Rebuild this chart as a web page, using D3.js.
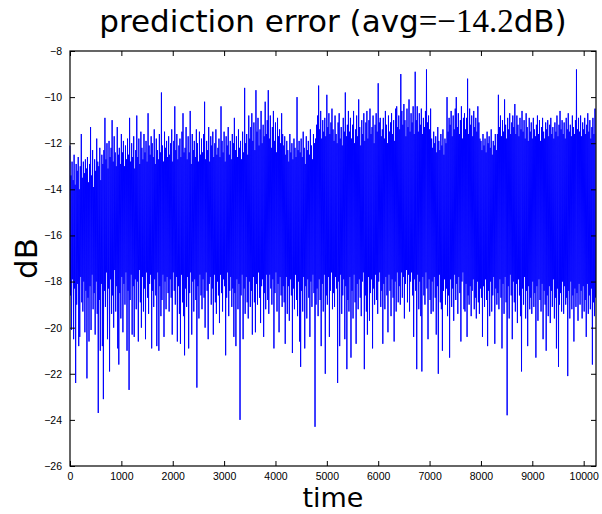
<!DOCTYPE html>
<html>
<head>
<meta charset="utf-8">
<script src="https://cdn.jsdelivr.net/npm/d3@7"></script>
<style>
  body { margin: 0; background: #fff; }
  .tick text { font-family: "Liberation Sans", Arial, sans-serif; font-size: 10.5px; fill: #000; }
</style>
</head>
<body>
<div id="plot"></div>
<script>
// prediction error in dB, one value every 10 samples
var timeStep = 10;
var errorDb = [
  -12.1, -18.6, -13.4, -20.1, -12.8, -17.9, -13.6, -20.5, -12.5, -18.3, -13.8, -22.4, -12.9, -19.0, -13.2, -18.1, -12.6, -20.8, -14.0, -20.4, -13.0, -17.8, -11.6, -18.9, -13.5, -19.3, -12.8, -18.0, -13.3, -20.2, -12.7, -18.4,
  -13.1, -22.2, -12.6, -18.7, -13.7, -20.6, -12.9, -18.2, -11.3, -20.1, -13.4, -17.7, -12.3, -19.2, -13.9, -18.5, -12.7, -20.3, -13.2, -18.0, -11.8, -19.4, -12.8, -23.7, -13.0, -18.8, -12.2, -21.0, -13.6, -18.1, -12.5, -20.8,
  -12.9, -23.1, -12.3, -18.4, -10.9, -19.1, -12.7, -17.6, -12.0, -20.5, -13.1, -18.3, -11.9, -21.9, -12.6, -17.9, -12.2, -19.4, -11.0, -18.6, -12.8, -20.0, -11.7, -17.5, -12.4, -19.3, -13.0, -18.2, -11.3, -20.9, -12.5, -21.6,
  -12.2, -18.5, -12.9, -19.6, -11.6, -17.8, -12.4, -20.2, -11.9, -18.1, -13.0, -19.0, -12.1, -17.6, -12.7, -21.0, -11.8, -18.4, -12.5, -22.7, -10.9, -18.8, -12.8, -17.7, -12.0, -20.3, -12.6, -18.2, -11.7, -20.4, -13.1, -17.9,
  -12.3, -19.2, -10.8, -18.0, -12.6, -20.6, -11.8, -17.5, -12.9, -18.9, -11.5, -20.0, -12.2, -17.8, -12.7, -19.3, -11.6, -18.3, -12.4, -20.5, -11.9, -17.6, -12.8, -18.7, -10.7, -19.4, -12.1, -18.1, -12.5, -17.7, -11.7, -20.9,
  -12.0, -18.4, -12.6, -19.1, -11.4, -17.9, -12.9, -18.6, -11.8, -20.8, -12.3, -17.6, -12.7, -21.0, -11.6, -18.2, -12.4, -19.5, -9.8, -18.8, -12.1, -17.7, -12.8, -20.4, -11.5, -18.0, -12.2, -19.2, -11.9, -17.8, -12.6, -18.5,
  -11.7, -19.3, -12.5, -17.9, -12.0, -18.7, -11.4, -20.3, -12.8, -17.6, -11.9, -18.4, -10.4, -19.0, -12.3, -17.8, -11.6, -20.6, -12.7, -18.2, -12.1, -19.4, -11.8, -20.7, -12.6, -17.7, -11.5, -18.9, -10.7, -19.5, -12.4, -21.2,
  -12.2, -18.3, -11.3, -19.1, -12.7, -17.8, -11.7, -20.9, -12.4, -18.5, -10.6, -17.6, -12.9, -20.3, -11.6, -18.0, -12.3, -19.3, -11.9, -17.9, -12.6, -18.8, -11.4, -22.6, -12.0, -18.2, -12.8, -19.6, -11.5, -17.7, -12.5, -18.6,
  -11.8, -19.2, -12.4, -17.9, -11.6, -18.7, -10.2, -20.0, -12.7, -17.6, -11.9, -18.4, -12.3, -20.5, -11.3, -18.1, -12.8, -17.8, -11.7, -19.0, -12.1, -18.3, -11.5, -20.3, -12.6, -17.7, -12.0, -18.9, -11.4, -19.4, -12.5, -18.0,
  -12.2, -18.6, -11.8, -19.8, -12.6, -17.7, -10.4, -18.5, -11.9, -19.3, -12.4, -17.9, -11.5, -18.2, -12.8, -21.2, -11.7, -18.7, -12.1, -17.6, -11.3, -19.5, -12.5, -18.4, -11.9, -17.8, -12.7, -19.1, -11.6, -18.3, -12.0, -20.4,
  -10.9, -18.5, -12.3, -20.8, -11.7, -17.9, -12.6, -19.2, -11.4, -18.1, -12.2, -24.0, -11.9, -18.6, -12.7, -17.7, -11.5, -20.5, -12.4, -18.3, -9.6, -19.4, -12.0, -17.8, -11.6, -18.9, -12.5, -19.6, -10.8, -18.0, -11.8, -19.1,
  -11.3, -18.4, -10.7, -20.3, -11.9, -17.8, -11.1, -18.9, -12.3, -20.2, -9.7, -18.1, -11.5, -19.0, -10.9, -17.6, -12.1, -18.7, -11.4, -19.8, -10.6, -18.2, -12.0, -17.9, -11.2, -20.4, -11.7, -18.5, -10.2, -19.2, -11.6, -17.7,
  -11.0, -18.8, -9.7, -19.4, -11.8, -17.7, -10.8, -18.3, -12.2, -19.0, -11.3, -17.9, -10.6, -20.9, -11.9, -18.5, -11.1, -17.6, -12.4, -19.3, -10.9, -18.1, -11.7, -20.2, -11.4, -17.8, -12.0, -18.6, -10.7, -19.1, -11.6, -18.2,
  -12.1, -18.9, -11.7, -20.7, -12.5, -17.8, -11.9, -19.4, -12.3, -18.2, -12.8, -19.7, -11.6, -17.9, -12.4, -18.6, -12.0, -21.1, -12.7, -18.3, -11.8, -19.2, -12.2, -17.7, -12.6, -18.8, -10.0, -19.5, -12.3, -18.0, -11.9, -20.6,
  -12.4, -21.7, -11.8, -18.4, -12.6, -19.3, -11.5, -17.8, -12.2, -20.9, -12.9, -18.2, -11.7, -19.6, -12.3, -17.9, -11.9, -18.7, -12.5, -20.4, -11.4, -18.0, -12.1, -19.1, -12.7, -17.7, -11.6, -18.5, -12.0, -24.3, -11.8, -19.0,
  -11.2, -18.3, -10.8, -19.5, -9.5, -17.9, -11.4, -18.8, -10.6, -20.8, -11.8, -18.1, -11.0, -19.3, -11.5, -17.7, -10.9, -22.0, -11.7, -18.6, -9.9, -19.0, -11.3, -17.8, -10.7, -20.4, -11.6, -18.4, -11.1, -17.6, -10.5, -19.2,
  -11.4, -18.5, -11.9, -19.1, -10.8, -17.8, -11.6, -18.3, -12.0, -22.4, -11.1, -18.0, -10.7, -20.8, -11.8, -17.7, -11.3, -19.4, -12.1, -18.6, -10.9, -17.9, -11.5, -20.5, -9.8, -18.2, -11.7, -21.8, -11.2, -18.8, -10.6, -19.3,
  -11.5, -17.8, -10.9, -21.3, -11.8, -18.4, -11.2, -19.6, -10.6, -17.7, -12.0, -18.9, -11.4, -20.7, -10.8, -18.1, -11.7, -19.2, -10.1, -17.9, -11.3, -18.7, -12.1, -19.5, -11.0, -18.0, -11.6, -17.6, -10.7, -21.8, -11.9, -18.6,
  -11.1, -19.3, -10.6, -20.3, -11.8, -17.8, -11.0, -19.7, -10.5, -18.5, -11.6, -17.9, -11.3, -20.9, -10.8, -18.3, -12.0, -19.0, -11.2, -17.7, -10.7, -18.8, -11.5, -19.4, -9.4, -18.0, -11.1, -17.6, -10.9, -19.1, -11.7, -18.4,
  -11.4, -20.7, -10.9, -18.1, -11.8, -19.2, -10.6, -17.8, -11.2, -18.6, -12.0, -20.2, -10.8, -17.7, -11.5, -18.4, -11.1, -19.5, -10.7, -17.9, -11.6, -18.7, -11.0, -20.6, -11.9, -18.0, -10.5, -19.3, -10.4, -17.6, -11.3, -18.9,
  -10.8, -18.2, -11.4, -19.0, -9.0, -17.6, -10.6, -18.7, -11.2, -17.8, -10.3, -19.6, -11.0, -18.1, -11.7, -17.5, -10.5, -18.9, -11.3, -17.7, -10.1, -19.3, -11.5, -18.0, -10.7, -17.6, -11.1, -18.6, -10.4, -20.4, -11.6, -17.9,
  -8.9, -18.4, -11.0, -21.8, -10.4, -17.7, -11.5, -19.2, -10.7, -18.0, -11.2, -19.5, -10.5, -21.9, -11.6, -17.8, -10.9, -18.6, -11.3, -19.0, -10.6, -17.6, -8.8, -18.3, -11.1, -20.5, -10.8, -17.9, -11.4, -18.8, -10.5, -19.4,
  -11.8, -18.0, -12.2, -19.3, -11.5, -17.8, -12.0, -18.7, -11.7, -20.3, -12.4, -18.2, -11.3, -22.0, -11.9, -17.7, -12.3, -18.9, -11.6, -19.2, -12.1, -21.0, -11.4, -18.4, -12.5, -17.9, -11.8, -19.0, -12.0, -18.3, -10.0, -19.5,
  -11.5, -18.6, -10.9, -21.3, -11.2, -17.9, -10.6, -19.1, -11.7, -18.3, -10.8, -19.7, -11.4, -17.7, -10.5, -18.8, -10.0, -18.1, -11.3, -19.4, -10.7, -17.8, -11.6, -18.5, -11.0, -20.6, -10.4, -18.0, -11.8, -17.6, -10.9, -19.2,
  -10.7, -19.3, -11.4, -18.1, -10.9, -20.4, -9.2, -18.6, -11.6, -19.0, -10.5, -18.2, -11.2, -19.5, -10.8, -18.4, -11.7, -17.9, -10.6, -19.2, -11.3, -18.7, -10.9, -19.6, -11.5, -18.0, -10.4, -18.9, -11.1, -19.4, -11.8, -18.3,
  -11.9, -18.7, -12.3, -20.4, -11.6, -18.2, -12.1, -19.1, -11.8, -17.9, -12.4, -18.8, -11.5, -20.8, -12.0, -18.4, -11.7, -19.5, -12.2, -18.0, -11.4, -19.3, -12.5, -18.6, -11.9, -17.8, -12.1, -20.7, -11.6, -18.3, -12.3, -19.0,
  -11.6, -18.5, -9.9, -19.2, -11.3, -17.9, -10.8, -18.7, -11.7, -20.9, -11.0, -18.1, -11.5, -19.4, -10.1, -17.8, -11.2, -18.9, -11.8, -23.8, -10.9, -18.2, -11.4, -19.6, -10.7, -17.7, -11.6, -18.6, -11.1, -20.5, -10.8, -18.0,
  -11.3, -18.9, -10.3, -19.3, -11.6, -18.1, -10.8, -19.8, -11.2, -17.9, -11.7, -18.6, -10.9, -19.5, -11.4, -21.9, -10.6, -18.3, -11.5, -19.0, -11.0, -17.8, -11.8, -19.6, -10.7, -18.4, -11.3, -20.8, -11.9, -18.2, -10.9, -19.2,
  -11.5, -18.7, -11.1, -19.4, -11.8, -18.0, -10.9, -19.1, -11.4, -18.5, -11.7, -21.3, -11.2, -18.2, -10.8, -19.7, -11.6, -17.9, -11.0, -18.8, -11.9, -19.3, -11.3, -18.1, -10.9, -20.5, -11.5, -18.4, -11.8, -19.0, -11.1, -21.0,
  -11.4, -18.6, -11.0, -19.5, -11.7, -18.2, -11.2, -19.8, -10.9, -18.4, -11.6, -19.1, -11.3, -17.9, -11.8, -19.6, -11.1, -18.7, -11.5, -20.9, -10.8, -18.3, -11.7, -21.7, -11.2, -19.0, -10.6, -18.5, -11.4, -19.3, -11.0, -18.0,
  -11.6, -19.4, -11.1, -18.2, -11.8, -19.0, -10.9, -18.7, -11.4, -22.1, -10.7, -18.4, -11.5, -19.6, -11.2, -18.0, -11.7, -19.2, -10.8, -18.6, -11.3, -20.6, -11.6, -18.3, -11.0, -19.1, -8.8, -18.5, -11.4, -19.7, -10.9, -18.1,
  -11.5, -19.0, -10.8, -18.4, -11.7, -19.6, -11.1, -18.2, -11.4, -19.3, -10.9, -18.8, -11.6, -20.4, -11.2, -18.1, -10.7, -19.4, -11.5, -18.6, -11.0, -19.2, -11.8, -18.3, -11.3, -21.6, -10.9, -18.9, -11.6, -19.5, -10.5, -18.7
];
var xTicks = [0, 1000, 2000, 3000, 4000, 5000, 6000, 7000, 8000, 9000, 10000];
var yTicks = [-26, -24, -22, -20, -18, -16, -14, -12, -10, -8];
var xDomain = [0, 10240];
var yDomain = [-26, -8];

var svgWidth = 602;
var svgHeight = 514;
var margin = { top: 51, right: 6, bottom: 48, left: 70 };
var width = svgWidth - margin.left - margin.right;
var height = svgHeight - margin.top - margin.bottom;

var svg = d3.select("#plot")
  .append("svg")
  .attr("width", svgWidth)
  .attr("height", svgHeight);

var chartGroup = svg.append("g")
  .attr("transform", `translate(${margin.left}, ${margin.top})`);

var xScale = d3.scaleLinear().domain(xDomain).range([0, width]);
var yScale = d3.scaleLinear().domain(yDomain).range([height, 0]);

// signal
var line = d3.line()
  .x((d, i) => xScale(i * timeStep))
  .y(d => yScale(d));

chartGroup.append("path")
  .datum(errorDb)
  .attr("d", line)
  .attr("fill", "none")
  .attr("stroke", "#0000ff")
  .attr("stroke-width", 1)
  .attr("stroke-linejoin", "bevel");

// inward ticks on all four sides, matlab style
function styleAxis(g) {
  g.select(".domain").remove();
  g.selectAll(".tick line").attr("stroke", "#000").attr("stroke-width", 1);
}

chartGroup.append("g")
  .attr("transform", `translate(0, ${height})`)
  .call(d3.axisBottom(xScale).tickValues(xTicks).tickSize(-5).tickPadding(7).tickFormat(d3.format("d")))
  .call(styleAxis);

chartGroup.append("g")
  .call(d3.axisTop(xScale).tickValues(xTicks).tickSize(-5).tickFormat(""))
  .call(styleAxis);

chartGroup.append("g")
  .call(d3.axisLeft(yScale).tickValues(yTicks).tickSize(-5).tickPadding(8))
  .call(styleAxis);

chartGroup.append("g")
  .attr("transform", `translate(${width}, 0)`)
  .call(d3.axisRight(yScale).tickValues(yTicks).tickSize(-5).tickFormat(""))
  .call(styleAxis);

chartGroup.append("rect")
  .attr("x", 0)
  .attr("y", 0)
  .attr("width", width)
  .attr("height", height)
  .attr("fill", "none")
  .attr("stroke", "#000")
  .attr("stroke-width", 1.2);

// labels
var title = svg.append("text")
  .attr("x", margin.left + width / 2)
  .attr("y", 32)
  .attr("text-anchor", "middle")
  .attr("font-family", "DejaVu Sans, sans-serif")
  .attr("font-size", "31px")
  .attr("fill", "#000");
title.append("tspan").text("prediction error (avg");
title.append("tspan").attr("font-family", "Liberation Serif, serif").attr("font-size", "33px").text("=\u221214.2");
title.append("tspan").text("dB)");

svg.append("text")
  .attr("x", margin.left + width / 2)
  .attr("y", 507)
  .attr("text-anchor", "middle")
  .attr("font-family", "DejaVu Sans, sans-serif")
  .attr("font-size", "27px")
  .attr("fill", "#000")
  .text("time");

svg.append("text")
  .attr("transform", `translate(37, ${margin.top + height / 2}) rotate(-90)`)
  .attr("text-anchor", "middle")
  .attr("font-family", "DejaVu Sans, sans-serif")
  .attr("font-size", "31px")
  .attr("fill", "#000")
  .text("dB");
</script>
</body>
</html>
